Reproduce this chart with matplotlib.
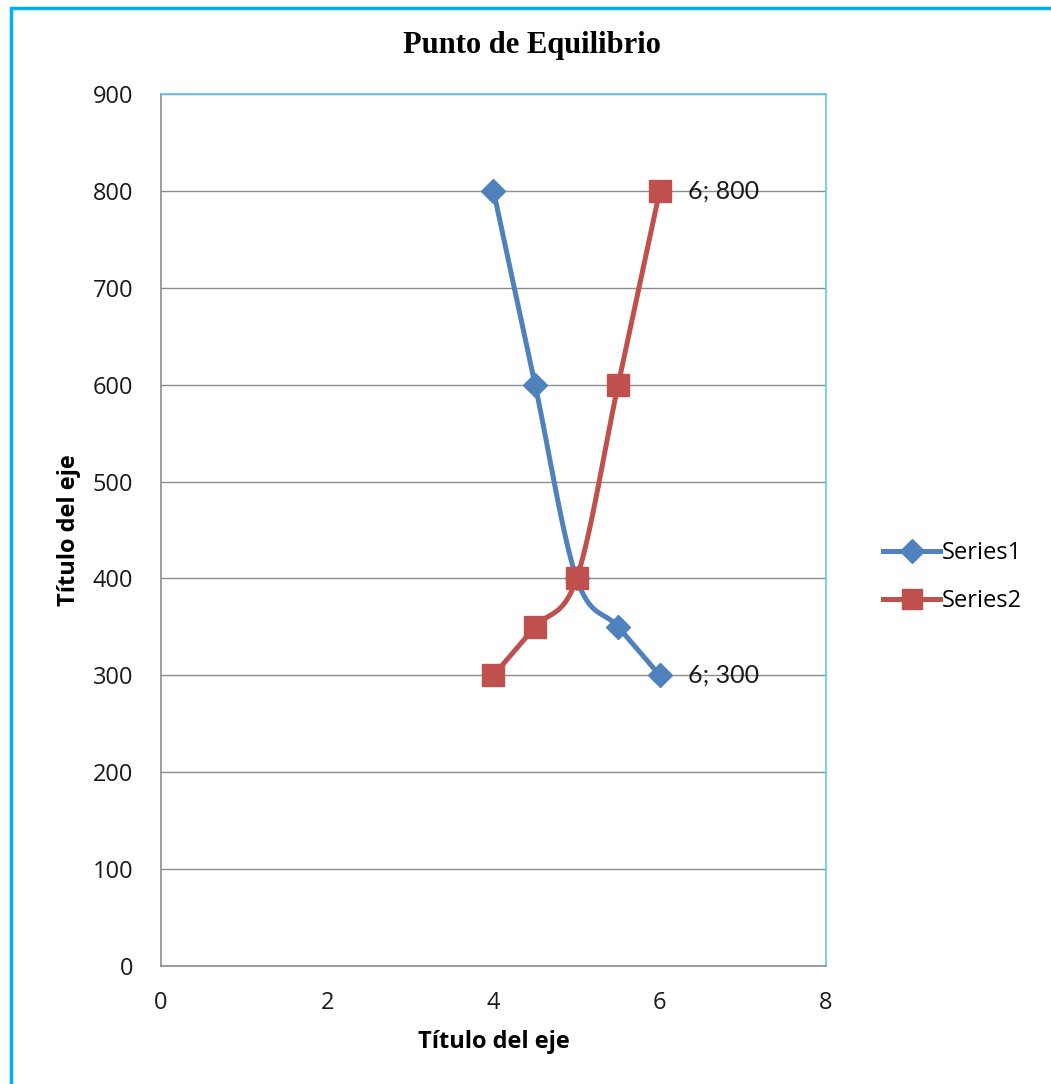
import numpy as np
import matplotlib.pyplot as plt
from matplotlib.patches import Rectangle
from matplotlib.lines import Line2D

# Datos
x_vals = [4, 4.5, 5, 5.5, 6]
series1 = [800, 600, 400, 350, 300]
series2 = [300, 350, 400, 600, 800]
series_names = ["Series1", "Series2"]
x_ticks = [0, 2, 4, 6, 8]
y_ticks = [0, 100, 200, 300, 400, 500, 600, 700, 800, 900]

azul = "#4F81BD"
rojo = "#C0504D"


def suavizar(xs, ys, n=30):
    # curva suave tipo Excel (Catmull-Rom)
    p = np.column_stack([xs, ys]).astype(float)
    p = np.vstack([p[0], p, p[-1]])
    out = []
    for i in range(1, len(p) - 2):
        p0, p1, p2, p3 = p[i - 1], p[i], p[i + 1], p[i + 2]
        t = np.linspace(0, 1, n)[:, None]
        c = 0.5 * ((2 * p1) + (-p0 + p2) * t + (2 * p0 - 5 * p1 + 4 * p2 - p3) * t**2
                   + (-p0 + 3 * p1 - 3 * p2 + p3) * t**3)
        out.append(c)
    c = np.vstack(out)
    return c[:, 0], c[:, 1]


fig = plt.figure(figsize=(10.51, 10.84), dpi=100)
fig.patches.append(Rectangle((11 / 1051, -0.1), 1.2, 1.1 - 8 / 1084,
                             transform=fig.transFigure, fill=False,
                             edgecolor="#00B0F0", linewidth=2.5))

ax = fig.add_axes([161 / 1051, 1 - 966 / 1084, 665 / 1051, 872 / 1084])

sx, sy = suavizar(x_vals, series1)
ax.plot(sx, sy, color=azul, linewidth=3.6, zorder=3)
ax.plot(x_vals, series1, linestyle="none", marker="D", markersize=12.5,
        color=azul, zorder=4)
sx, sy = suavizar(x_vals, series2)
ax.plot(sx, sy, color=rojo, linewidth=3.6, zorder=3)
ax.plot(x_vals, series2, linestyle="none", marker="s", markersize=15.5,
        color=rojo, zorder=4)

# etiquetas de datos
ax.annotate(f"{x_vals[-1]}; {series2[-1]}", (x_vals[-1], series2[-1]),
            xytext=(20, 0), textcoords="offset points", va="center",
            fontsize=18, family="Lato", color="#1a1a1a")
ax.annotate(f"{x_vals[-1]}; {series1[-1]}", (x_vals[-1], series1[-1]),
            xytext=(20, 0), textcoords="offset points", va="center",
            fontsize=18, family="Lato", color="#1a1a1a")

ax.set_xlim(0, 8)
ax.set_ylim(0, 900)
ax.set_xticks(x_ticks)
ax.set_yticks(y_ticks)
ax.tick_params(length=0, labelsize=17, colors="#1a1a1a")
ax.tick_params(axis="y", pad=20)
ax.tick_params(axis="x", pad=18)
for lab in ax.get_xticklabels() + ax.get_yticklabels():
    lab.set_family("Open Sans")
ax.grid(axis="y", color="#8c8c8c", linewidth=1)
ax.set_axisbelow(True)
ax.spines["left"].set_color("#8c8c8c")
ax.spines["bottom"].set_color("#8c8c8c")
ax.spines["top"].set_color("#5BC8F0")
ax.spines["right"].set_color("#5BC8F0")
for s in ax.spines.values():
    s.set_linewidth(1.2)

ax.set_xlabel("Título del eje", fontsize=17, fontweight="bold",
              family="Open Sans", labelpad=11)
ax.set_ylabel("Título del eje", fontsize=17, fontweight="bold",
              family="Open Sans", labelpad=8)
fig.text(532 / 1051, 1 - 46 / 1084, "Punto de Equilibrio", ha="center",
         va="center", fontsize=22, fontweight="bold", family="Liberation Serif")

handles = [Line2D([], [], color=azul, linewidth=3.6, marker="D", markersize=12),
           Line2D([], [], color=rojo, linewidth=3.6, marker="s", markersize=15)]
fig.legend(handles, series_names, loc="center left",
           bbox_to_anchor=(862 / 1051, 1 - 577 / 1084), frameon=False,
           prop={"family": "Open Sans", "size": 17},
           handlelength=2.4, handletextpad=0.1, labelspacing=1.0)

fig.savefig("out.png", dpi=100)
